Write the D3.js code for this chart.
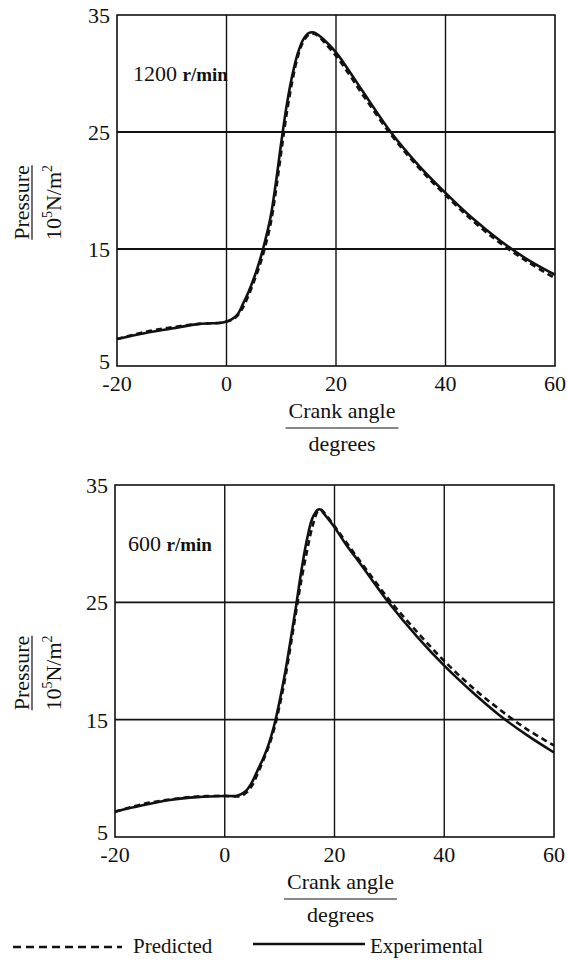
<!DOCTYPE html>
<html>
<head>
<meta charset="utf-8">
<script src="https://cdn.jsdelivr.net/npm/d3@7"></script>
<style>
  body { margin: 0; background: #fff; }
</style>
</head>
<body>
<div id="chart"></div>
<script>
// crank angle (degrees) and pressure (10^5 N/m^2)
const angles1200 = [-20, -15, -10, -5, -1, 0, 1, 2, 3, 4, 5, 6, 7, 8, 9, 10, 11, 12, 13, 14, 15, 16, 17, 18, 20, 22, 25, 30, 35, 40, 45, 50, 55, 60]
const experimental1200 = [7.3, 7.8, 8.2, 8.6, 8.7, 8.8, 9.0, 9.4, 10.3, 11.3, 12.5, 13.9, 15.6, 17.6, 20.6, 24.1, 27.3, 29.8, 31.7, 32.9, 33.45, 33.5, 33.2, 32.8, 31.8, 30.5, 28.4, 25.0, 22.2, 19.8, 17.6, 15.7, 14.1, 12.8]
const predicted1200 = [7.3, 7.9, 8.3, 8.6, 8.7, 8.8, 8.95, 9.3, 10.0, 11.0, 12.2, 13.5, 15.1, 17.0, 19.9, 23.3, 26.6, 29.3, 31.4, 32.7, 33.3, 33.4, 33.1, 32.6, 31.5, 30.2, 28.1, 24.8, 22.0, 19.6, 17.4, 15.5, 13.9, 12.5]

const angles600 = [-20, -15, -10, -5, 0, 2, 3, 4, 5, 6, 7, 8, 9, 10, 11, 12, 13, 14, 15, 16, 17, 17.5, 18, 20, 22, 25, 30, 35, 40, 45, 50, 55, 60]
const experimental600 = [7.15, 7.7, 8.15, 8.4, 8.5, 8.5, 8.65, 9.0, 9.7, 10.7, 11.7, 12.9, 14.5, 16.6, 19.0, 21.8, 24.7, 27.8, 30.4, 32.2, 32.9, 32.9, 32.6, 31.4, 30.0, 28.1, 24.9, 22.1, 19.6, 17.4, 15.4, 13.7, 12.2]
const predicted600 = [7.15, 7.8, 8.2, 8.45, 8.5, 8.45, 8.5, 8.8, 9.4, 10.4, 11.5, 12.7, 14.2, 16.2, 18.5, 21.3, 24.2, 27.0, 29.4, 31.5, 32.8, 32.9, 32.7, 31.5, 30.2, 28.3, 25.2, 22.5, 20.0, 17.8, 15.9, 14.2, 12.8]

const xTicks = [-20, 0, 20, 40, 60]
const yTicks = [5, 15, 25, 35]
const speedLabels = ['1200', '600']

const width = 567
const height = 964
const font = "'Liberation Serif', 'Times New Roman', 'DejaVu Serif', serif"

const svg = d3
  .select('#chart')
  .append('svg')
  .attr('width', width)
  .attr('height', height)
  .attr('font-family', font)
  .style('font-family', font)

const panels = [
  { left: 117, right: 555, top: 15, bottom: 366, angles: angles1200, exp: experimental1200, pred: predicted1200, speed: speedLabels[0], labelX: 133, labelY: 81 },
  { left: 115, right: 554, top: 485, bottom: 837, angles: angles600, exp: experimental600, pred: predicted600, speed: speedLabels[1], labelX: 128, labelY: 551 },
]

function drawPanel(p) {
  const x = d3.scaleLinear().domain([-20, 60]).range([p.left, p.right])
  const y = d3.scaleLinear().domain([5, 35]).range([p.bottom, p.top])
  const g = svg.append('g').attr('fill', '#111')

  // grid lines (interior)
  g.append('g')
    .selectAll('line')
    .data(xTicks.slice(1, -1))
    .enter()
    .append('line')
    .attr('x1', d => x(d))
    .attr('x2', d => x(d))
    .attr('y1', p.top)
    .attr('y2', p.bottom)
    .attr('stroke', '#111')
    .attr('stroke-width', 1.4)

  g.append('g')
    .selectAll('line')
    .data(yTicks.slice(1, -1))
    .enter()
    .append('line')
    .attr('x1', p.left)
    .attr('x2', p.right)
    .attr('y1', d => y(d))
    .attr('y2', d => y(d))
    .attr('stroke', '#111')
    .attr('stroke-width', 1.8)

  // frame
  g.append('rect')
    .attr('x', p.left)
    .attr('y', p.top)
    .attr('width', p.right - p.left)
    .attr('height', p.bottom - p.top)
    .attr('fill', 'none')
    .attr('stroke', '#111')
    .attr('stroke-width', 1.6)

  // tick labels
  g.append('g')
    .selectAll('text')
    .data(xTicks)
    .enter()
    .append('text')
    .attr('x', d => x(d))
    .attr('y', p.bottom + 25)
    .attr('text-anchor', 'middle')
    .attr('font-size', 22)
    .text(d => d)

  // the lowest label sits a little higher so it clears "-20"
  g.append('g')
    .selectAll('text')
    .data(yTicks)
    .enter()
    .append('text')
    .attr('x', p.left - 7)
    .attr('y', d => y(d) + (d === 5 ? 3 : 8))
    .attr('text-anchor', 'end')
    .attr('font-size', 22)
    .text(d => d)

  // curves
  const line = d3
    .line()
    .x(d => x(d[0]))
    .y(d => y(d[1]))
    .curve(d3.curveCatmullRom.alpha(0.5))

  g.append('path')
    .datum(p.angles.map((a, i) => [a, p.pred[i]]))
    .attr('d', line)
    .attr('fill', 'none')
    .attr('stroke', '#111')
    .attr('stroke-width', 2.6)
    .attr('stroke-dasharray', '6,4')

  g.append('path')
    .datum(p.angles.map((a, i) => [a, p.exp[i]]))
    .attr('d', line)
    .attr('fill', 'none')
    .attr('stroke', '#111')
    .attr('stroke-width', 2.6)

  // speed label
  const sl = g.append('text')
    .attr('x', p.labelX)
    .attr('y', p.labelY)
    .attr('font-size', 22)
  sl.append('tspan').text(p.speed + ' ')
  sl.append('tspan').attr('font-size', 19).attr('font-weight', 'bold').text('r/min')

  // x axis title as a fraction
  const cx = x(20) + 6
  const crank = g.append('text')
    .attr('x', cx)
    .attr('y', p.bottom + 52)
    .attr('text-anchor', 'middle')
    .attr('font-size', 22)
    .text('Crank angle')
  const cw = crank.node().getComputedTextLength()
  g.append('line')
    .attr('x1', cx - cw / 2 - 3)
    .attr('x2', cx + cw / 2 + 3)
    .attr('y1', p.bottom + 62)
    .attr('y2', p.bottom + 62)
    .attr('stroke', '#111')
    .attr('stroke-width', 1.2)
  g.append('text')
    .attr('x', cx)
    .attr('y', p.bottom + 85)
    .attr('text-anchor', 'middle')
    .attr('font-size', 22)
    .text('degrees')

  // y axis title as a fraction, rotated
  const cy = (p.top + p.bottom) / 2 + 12
  const yg = g.append('g').attr('transform', 'translate(0,' + cy + ') rotate(-90)')
  const pr = yg.append('text')
    .attr('x', 0)
    .attr('y', 29)
    .attr('text-anchor', 'middle')
    .attr('font-size', 22)
    .text('Pressure')
  const pw = pr.node().getComputedTextLength()
  yg.append('line')
    .attr('x1', -pw / 2)
    .attr('x2', pw / 2)
    .attr('y1', 32)
    .attr('y2', 32)
    .attr('stroke', '#111')
    .attr('stroke-width', 1.2)
  const unit = yg.append('text')
    .attr('x', 0)
    .attr('y', 61)
    .attr('text-anchor', 'middle')
    .attr('font-size', 22)
  unit.append('tspan').text('10')
  unit.append('tspan').attr('font-size', 14).attr('dy', -9).text('5')
  unit.append('tspan').attr('dy', 9).text('N/m')
  unit.append('tspan').attr('font-size', 14).attr('dy', -9).text('2')
}

panels.forEach(drawPanel)

// legend
const legend = svg.append('g').attr('fill', '#111')
legend.append('line')
  .attr('x1', 13).attr('x2', 122)
  .attr('y1', 947).attr('y2', 947)
  .attr('stroke', '#111')
  .attr('stroke-width', 2.6)
  .attr('stroke-dasharray', '8,5')
legend.append('text')
  .attr('x', 133).attr('y', 953)
  .attr('font-size', 21)
  .text('Predicted')
legend.append('line')
  .attr('x1', 253).attr('x2', 365)
  .attr('y1', 944).attr('y2', 944)
  .attr('stroke', '#111')
  .attr('stroke-width', 2.6)
legend.append('text')
  .attr('x', 370).attr('y', 953)
  .attr('font-size', 21)
  .text('Experimental')
</script>
</body>
</html>
